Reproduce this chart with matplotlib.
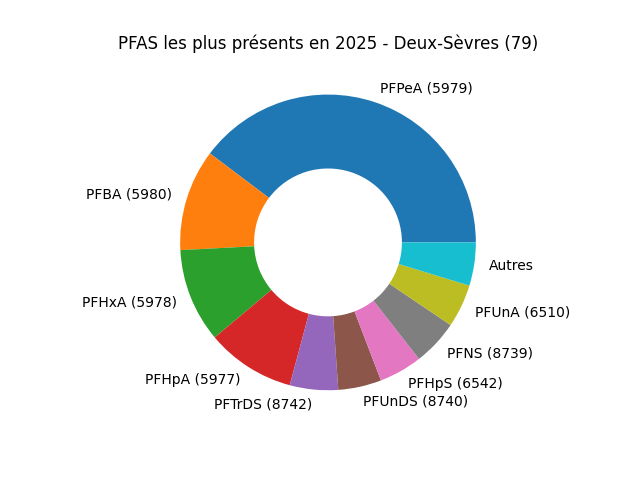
import matplotlib
matplotlib.use("Agg")
import matplotlib.pyplot as plt

labels = ["PFPeA (5979)", "PFBA (5980)", "PFHxA (5978)", "PFHpA (5977)", "PFTrDS (8742)",
          "PFUnDS (8740)", "PFHpS (6542)", "PFNS (8739)", "PFUnA (6510)", "Autres"]
values = [143, 40, 37, 35, 19, 17, 17, 18, 17, 17]

fig, ax = plt.subplots(figsize=(6.4, 4.8), dpi=100)
ax.pie(values, labels=labels, wedgeprops=dict(width=0.5))
ax.set_title("PFAS les plus présents en 2025 - Deux-Sèvres (79)")
fig.savefig("out.png")
